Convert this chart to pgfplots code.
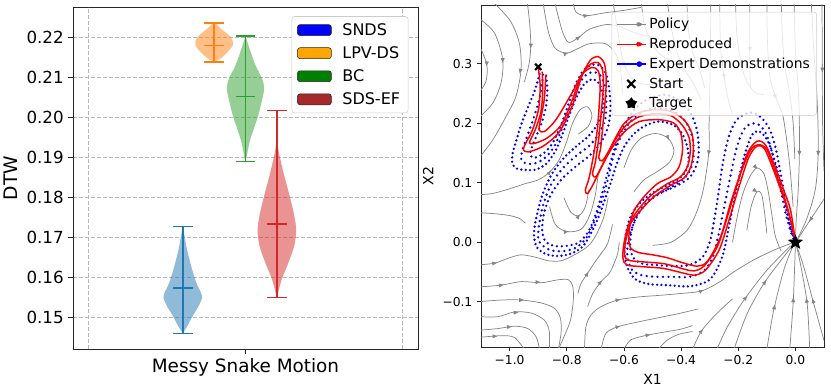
\documentclass[border=0pt]{standalone}
\usepackage{fontspec}
\setmainfont{DejaVu Sans}
\usepackage{pgfplots}
\pgfplotsset{compat=1.18}
\usetikzlibrary{arrows.meta}

\definecolor{c0}{HTML}{1F77B4}
\definecolor{c1}{HTML}{FF7F0E}
\definecolor{c2}{HTML}{2CA02C}
\definecolor{c3}{HTML}{D62728}
\definecolor{pbrown}{HTML}{A52A2A}
\definecolor{porange}{HTML}{FFA500}
\definecolor{pgreen}{HTML}{008000}

% filled five point star for the target
\pgfdeclareplotmark{fstar}{%
  \pgfpathmoveto{\pgfpoint{0pt}{\pgfplotmarksize}}%
  \pgfpathlineto{\pgfpoint{-0.247\pgfplotmarksize}{0.340\pgfplotmarksize}}%
  \pgfpathlineto{\pgfpoint{-0.951\pgfplotmarksize}{0.309\pgfplotmarksize}}%
  \pgfpathlineto{\pgfpoint{-0.399\pgfplotmarksize}{-0.130\pgfplotmarksize}}%
  \pgfpathlineto{\pgfpoint{-0.588\pgfplotmarksize}{-0.809\pgfplotmarksize}}%
  \pgfpathlineto{\pgfpoint{0pt}{-0.420\pgfplotmarksize}}%
  \pgfpathlineto{\pgfpoint{0.588\pgfplotmarksize}{-0.809\pgfplotmarksize}}%
  \pgfpathlineto{\pgfpoint{0.399\pgfplotmarksize}{-0.130\pgfplotmarksize}}%
  \pgfpathlineto{\pgfpoint{0.951\pgfplotmarksize}{0.309\pgfplotmarksize}}%
  \pgfpathlineto{\pgfpoint{0.247\pgfplotmarksize}{0.340\pgfplotmarksize}}%
  \pgfpathclose
  \pgfusepathqfillstroke}

\pgfplotsset{
  vl/.style={forget plot, line width=1.1pt},
  vb/.style={forget plot, draw=none, fill opacity=0.5, smooth},
  sl/.style={forget plot, no markers, smooth, color=black!48, line width=0.55pt},
  demo/.style={forget plot, no markers, smooth, color=blue, line width=1.95pt,
    line cap=round},
  rep/.style={forget plot, no markers, smooth, color=red, line width=1.1pt},
}

\begin{document}
\begin{tikzpicture}
\path[use as bounding box] (0,0) rectangle (623.25pt,290.25pt);

% ---------------- left: violins
\begin{axis}[
  at={(54.75pt,28.5pt)}, anchor=south west, scale only axis,
  width=258.75pt, height=256.5pt,
  xmin=-1.1, xmax=1.1, ymin=0.1421, ymax=0.2275,
  axis line style={black!85, line width=0.6pt},
  tick pos=left, tick align=outside, major tick length=3.5pt,
  tick style={black!85, line width=0.6pt},
  xtick={0}, xticklabels={Messy Snake Motion},
  xticklabel style={font=\fontsize{13.8}{15}\selectfont},
  extra x ticks={-1,1}, extra x tick labels={},
  extra x tick style={grid=major, major tick length=0pt},
  ytick={0.15,0.16,0.17,0.18,0.19,0.20,0.21,0.22},
  yticklabels={0.15,0.16,0.17,0.18,0.19,0.20,0.21,0.22},
  yticklabel style={font=\fontsize{12.5}{14}\selectfont},
  ymajorgrids,
  grid style={black!28, line width=0.6pt, dash pattern=on 3pt off 1.5pt},
  ylabel={DTW}, ylabel style={font=\fontsize{14}{16}\selectfont},
  legend cell align=left,
  legend style={at={(0.972,0.973)}, anchor=north east, draw=black!20,
    rounded corners=2pt, fill=white, font=\fontsize{12}{14}\selectfont,
    row sep=2.9pt, inner xsep=4pt, inner ysep=3pt,
    /tikz/every odd column/.append style={column sep=6pt}},
  legend image code/.code={\draw[#1] (0pt,-4.1pt) rectangle (25.5pt,4.1pt);},
]
% SNDS
\addplot[vb, fill=c0] coordinates {(-0.4,0.1460) (-0.370,0.1479) (-0.336,0.1504) (-0.298,0.1529) (-0.277,0.1550) (-0.288,0.1565) (-0.315,0.1588) (-0.347,0.1629) (-0.374,0.1671) (-0.389,0.1704) (-0.398,0.1727) (-0.402,0.1727) (-0.411,0.1704) (-0.426,0.1671) (-0.453,0.1629) (-0.485,0.1588) (-0.512,0.1565) (-0.523,0.1550) (-0.502,0.1529) (-0.464,0.1504) (-0.430,0.1479) (-0.4,0.1460)} -- cycle;
\addplot[vl, c0] coordinates {(-0.4,0.1460) (-0.4,0.1727)};
\addplot[vl, c0] coordinates {(-0.4625,0.1460) (-0.3375,0.1460)};
\addplot[vl, c0] coordinates {(-0.4625,0.1727) (-0.3375,0.1727)};
\addplot[vl, c0] coordinates {(-0.4625,0.1573) (-0.3375,0.1573)};
% LPV-DS
\addplot[vb, fill=c1] coordinates {(-0.2,0.2138) (-0.168,0.2144) (-0.136,0.2154) (-0.104,0.2167) (-0.081,0.2179) (-0.083,0.2192) (-0.104,0.2204) (-0.157,0.2221) (-0.180,0.2230) (-0.198,0.2235) (-0.202,0.2235) (-0.220,0.2230) (-0.243,0.2221) (-0.296,0.2204) (-0.317,0.2192) (-0.319,0.2179) (-0.296,0.2167) (-0.264,0.2154) (-0.232,0.2144) (-0.2,0.2138)} -- cycle;
\addplot[vl, c1] coordinates {(-0.2,0.2138) (-0.2,0.2235)};
\addplot[vl, c1] coordinates {(-0.2625,0.2138) (-0.1375,0.2138)};
\addplot[vl, c1] coordinates {(-0.2625,0.2235) (-0.1375,0.2235)};
\addplot[vl, c1] coordinates {(-0.2625,0.2179) (-0.1375,0.2179)};
% BC
\addplot[vb, fill=c2] coordinates {(0,0.1889) (0.009,0.1904) (0.026,0.1938) (0.053,0.1971) (0.081,0.2004) (0.102,0.2037) (0.119,0.2071) (0.106,0.2096) (0.064,0.2129) (0.026,0.2171) (0.006,0.2195) (0,0.2202) (-0.006,0.2195) (-0.026,0.2171) (-0.064,0.2129) (-0.106,0.2096) (-0.119,0.2071) (-0.102,0.2037) (-0.081,0.2004) (-0.053,0.1971) (-0.026,0.1938) (-0.009,0.1904) (0,0.1889)} -- cycle;
\addplot[vl, c2] coordinates {(0,0.1889) (0,0.2202)};
\addplot[vl, c2] coordinates {(-0.0625,0.1889) (0.0625,0.1889)};
\addplot[vl, c2] coordinates {(-0.0625,0.2202) (0.0625,0.2202)};
\addplot[vl, c2] coordinates {(-0.0625,0.2052) (0.0625,0.2052)};
% SDS-EF
\addplot[vb, fill=c3] coordinates {(0.2,0.1550) (0.209,0.1563) (0.232,0.1596) (0.275,0.1638) (0.311,0.1679) (0.323,0.1717) (0.311,0.1754) (0.281,0.1804) (0.247,0.1854) (0.217,0.1904) (0.204,0.1938) (0.201,0.1975) (0.199,0.1975) (0.196,0.1938) (0.183,0.1904) (0.153,0.1854) (0.119,0.1804) (0.089,0.1754) (0.077,0.1717) (0.089,0.1679) (0.125,0.1638) (0.168,0.1596) (0.191,0.1563) (0.2,0.1550)} -- cycle;
\addplot[vl, c3] coordinates {(0.2,0.1550) (0.2,0.2017)};
\addplot[vl, c3] coordinates {(0.1375,0.1550) (0.2625,0.1550)};
\addplot[vl, c3] coordinates {(0.1375,0.2017) (0.2625,0.2017)};
\addplot[vl, c3] coordinates {(0.1375,0.1733) (0.2625,0.1733)};

\addlegendimage{fill=blue, draw=black!85}
\addlegendentry{SNDS}
\addlegendimage{fill=porange, draw=black!85}
\addlegendentry{LPV-DS}
\addlegendimage{fill=pgreen, draw=black!85}
\addlegendentry{BC}
\addlegendimage{fill=pbrown, draw=black!85}
\addlegendentry{SDS-EF}
\end{axis}

% ---------------- right: policy streamlines and trajectories
\begin{axis}[
  at={(360.75pt,30pt)}, anchor=south west, scale only axis,
  width=257.25pt, height=256.5pt,
  xmin=-1.1, xmax=0.1, ymin=-0.176, ymax=0.399,
  axis line style={black!85, line width=0.6pt},
  tick pos=left, tick align=outside, major tick length=3pt,
  tick style={black!85, line width=0.6pt},
  xtick={-1,-0.8,-0.6,-0.4,-0.2,0},
  xticklabels={−1.0,−0.8,−0.6,−0.4,−0.2,0.0},
  ytick={-0.1,0,0.1,0.2,0.3},
  yticklabels={−0.1,0.0,0.1,0.2,0.3},
  tick label style={font=\fontsize{9.2}{10}\selectfont},
  xlabel={X1}, ylabel={X2},
  label style={font=\fontsize{10.5}{12}\selectfont},
  legend cell align=left,
  legend style={at={(0.979,0.98)}, anchor=north east, fill=white,
    fill opacity=0.8, draw opacity=1, text opacity=1, draw=black!20,
    rounded corners=2pt, font=\fontsize{10.4}{12}\selectfont,
    row sep=1.5pt, inner xsep=3pt, inner ysep=2.5pt},
]
% streamlines of the learned policy
\addplot[sl] coordinates {(-1.07,0.41) (-1.00,0.374) (-0.966,0.335) (-0.96,0.29) (-0.978,0.245) (-1.013,0.211) (-1.059,0.172) (-1.11,0.14)};
\addplot[sl] coordinates {(-1.11,0.378) (-1.053,0.352) (-1.024,0.307) (-1.03,0.268) (-1.059,0.234) (-1.11,0.208)};
\addplot[sl] coordinates {(-1.11,0.335) (-1.08,0.30) (-1.083,0.27) (-1.11,0.25)};
\addplot[sl] coordinates {(-0.94,0.41) (-0.93,0.37) (-0.926,0.33) (-0.932,0.30) (-0.948,0.27)};
\addplot[sl] coordinates {(-0.845,0.41) (-0.83,0.38) (-0.812,0.35) (-0.792,0.336) (-0.757,0.345) (-0.722,0.358) (-0.664,0.366) (-0.617,0.363) (-0.56,0.352) (-0.50,0.345)};
\addplot[sl] coordinates {(-0.78,0.41) (-0.769,0.388) (-0.734,0.381) (-0.664,0.386) (-0.60,0.39) (-0.54,0.395)};
\addplot[sl] coordinates {(-0.885,0.41) (-0.875,0.38) (-0.862,0.35) (-0.84,0.326) (-0.80,0.318) (-0.76,0.326) (-0.72,0.334) (-0.665,0.334) (-0.63,0.318) (-0.612,0.29) (-0.605,0.25)};
\addplot[sl] coordinates {(-1.11,0.08) (-1.06,0.082) (-1.0,0.09) (-0.95,0.098) (-0.90,0.105) (-0.86,0.118) (-0.825,0.14) (-0.80,0.17) (-0.78,0.2) (-0.755,0.222) (-0.728,0.228) (-0.712,0.214) (-0.725,0.195) (-0.76,0.182)};
\addplot[sl] coordinates {(-1.11,0.05) (-1.05,0.048) (-1.0,0.045) (-0.965,0.04) (-0.945,0.032)};
\addplot[sl] coordinates {(-0.86,0.06) (-0.84,0.03) (-0.80,0.018) (-0.75,0.022) (-0.72,0.045) (-0.70,0.08) (-0.69,0.115)};
\addplot[sl] coordinates {(-0.81,0.075) (-0.785,0.05) (-0.757,0.045) (-0.735,0.06) (-0.722,0.09)};
\addplot[sl] coordinates {(-1.11,-0.038) (-1.052,-0.035) (-1.006,-0.027) (-0.959,-0.021) (-0.901,-0.026) (-0.866,-0.031) (-0.82,-0.031) (-0.773,-0.021) (-0.727,-0.007) (-0.70,0.01) (-0.672,0.04) (-0.655,0.075)};
% left part: flow runs right, then turns down to the lower edge
\addplot[sl] coordinates {(-1.11,-0.075) (-1.029,-0.072) (-0.959,-0.066) (-0.889,-0.068) (-0.831,-0.063) (-0.794,-0.063) (-0.779,-0.074) (-0.777,-0.097) (-0.787,-0.131) (-0.81,-0.159) (-0.829,-0.18)};
\addplot[sl] coordinates {(-1.11,-0.10) (-1.029,-0.097) (-0.959,-0.097) (-0.889,-0.102) (-0.843,-0.111) (-0.822,-0.128) (-0.82,-0.153) (-0.83,-0.18)};
\addplot[sl] coordinates {(-1.11,-0.125) (-1.041,-0.125) (-0.983,-0.117) (-0.924,-0.119) (-0.878,-0.131) (-0.861,-0.15) (-0.861,-0.18)};
\addplot[sl] coordinates {(-1.11,-0.148) (-1.041,-0.145) (-0.983,-0.141) (-0.936,-0.145) (-0.907,-0.159) (-0.895,-0.18)};
\addplot[sl] coordinates {(-1.11,-0.16) (-1.029,-0.157) (-0.983,-0.16) (-0.948,-0.18)};
% right part: flow comes up from the lower edge and runs right
\addplot[sl] coordinates {(-0.738,-0.18) (-0.733,-0.142) (-0.715,-0.122) (-0.68,-0.108) (-0.622,-0.097) (-0.552,-0.092) (-0.471,-0.089) (-0.401,-0.086) (-0.33,-0.082) (-0.27,-0.068) (-0.21,-0.048) (-0.14,-0.028) (-0.07,-0.012) (-0.01,-0.001)};
\addplot[sl] coordinates {(-0.68,-0.18) (-0.663,-0.153) (-0.622,-0.142) (-0.552,-0.134) (-0.471,-0.126) (-0.401,-0.119) (-0.34,-0.112)};
\addplot[sl] coordinates {(-0.60,-0.18) (-0.576,-0.164) (-0.517,-0.156) (-0.448,-0.15) (-0.401,-0.146) (-0.36,-0.14)};
\addplot[sl] coordinates {(-0.761,-0.086) (-0.75,-0.069) (-0.727,-0.052) (-0.704,-0.035) (-0.68,-0.019) (-0.657,-0.002) (-0.64,0.03)};
\addplot[sl] coordinates {(-0.727,-0.108) (-0.709,-0.086) (-0.68,-0.066) (-0.651,-0.052) (-0.634,-0.035) (-0.622,-0.019) (-0.616,0.0)};
\addplot[sl] coordinates {(-0.48,-0.18) (-0.45,-0.165) (-0.41,-0.155) (-0.36,-0.15)};
\addplot[sl] coordinates {(-0.36,-0.18) (-0.33,-0.15) (-0.28,-0.122) (-0.22,-0.095)};
\addplot[sl] coordinates {(-0.275,-0.18) (-0.238,-0.142) (-0.18,-0.097) (-0.10,-0.047) (-0.017,-0.006)};
\addplot[sl] coordinates {(-0.215,-0.18) (-0.169,-0.12) (-0.11,-0.069) (-0.05,-0.03) (-0.006,-0.003)};
\addplot[sl] coordinates {(-0.10,-0.18) (-0.076,-0.114) (-0.041,-0.047) (-0.01,-0.008)};
\addplot[sl] coordinates {(-0.02,-0.18) (-0.008,-0.103) (-0.002,-0.03) (0,0)};
\addplot[sl] coordinates {(0.05,-0.18) (0.041,-0.103) (0.017,-0.035) (0.002,-0.003)};
\addplot[sl] coordinates {(0.10,-0.165) (0.064,-0.103) (0.029,-0.041) (0.003,-0.004)};
\addplot[sl] coordinates {(0.11,0.08) (0.055,0.04) (0.006,0.004)};
\addplot[sl] coordinates {(0.055,0.41) (0.064,0.324) (0.076,0.239) (0.08,0.155) (0.07,0.09) (0.04,0.04) (0.005,0.004)};
\addplot[sl] coordinates {(-0.005,0.41) (0,0.324) (0.012,0.239) (0.014,0.155) (0.01,0.09) (0.003,0.04) (0,0.003)};
\addplot[sl] coordinates {(0.093,0.41) (0.094,0.3) (0.095,0.2) (0.1,0.12)};
\addplot[sl] coordinates {(-0.05,0.41) (-0.045,0.34) (-0.035,0.29) (-0.02,0.25) (-0.008,0.2) (-0.002,0.14)};
\addplot[sl] coordinates {(-0.10,0.41) (-0.098,0.34) (-0.09,0.28) (-0.07,0.245) (-0.045,0.215) (-0.03,0.17) (-0.018,0.12) (-0.008,0.06)};
\addplot[sl] coordinates {(-0.16,0.41) (-0.16,0.33) (-0.158,0.26)};
\addplot[sl] coordinates {(-0.21,0.41) (-0.205,0.35) (-0.19,0.3) (-0.17,0.27) (-0.14,0.252) (-0.11,0.248)};
\addplot[sl] coordinates {(-0.265,0.41) (-0.262,0.33) (-0.25,0.28) (-0.235,0.24) (-0.22,0.215)};
\addplot[sl] coordinates {(-0.296,0.40) (-0.298,0.3) (-0.302,0.2) (-0.302,0.155) (-0.32,0.094) (-0.343,0.054) (-0.378,0.021) (-0.436,0.0) (-0.50,-0.005)};
\addplot[sl] coordinates {(-0.38,0.41) (-0.375,0.36) (-0.36,0.32) (-0.335,0.29) (-0.318,0.26)};
\addplot[sl] coordinates {(-0.22,0.0) (-0.205,0.04) (-0.185,0.08) (-0.16,0.11) (-0.135,0.125) (-0.11,0.115) (-0.095,0.085) (-0.082,0.045) (-0.07,0.01) (-0.05,-0.015)};
\addplot[sl] coordinates {(-0.17,0.02) (-0.155,0.06) (-0.135,0.085) (-0.118,0.08) (-0.108,0.05) (-0.10,0.015)};
\addplot[sl] coordinates {(-0.60,0.125) (-0.575,0.155) (-0.54,0.175) (-0.49,0.183) (-0.445,0.175) (-0.425,0.155) (-0.44,0.135) (-0.48,0.12) (-0.53,0.105) (-0.565,0.085)};
\addplot[sl] coordinates {(-0.64,0.41) (-0.62,0.35) (-0.60,0.30) (-0.56,0.27) (-0.50,0.265)};
\addplot[sl] coordinates {(-0.54,0.41) (-0.53,0.37) (-0.505,0.335) (-0.47,0.315) (-0.43,0.305)};
\addplot[sl] coordinates {(-0.45,0.41) (-0.43,0.35) (-0.40,0.30) (-0.36,0.27) (-0.33,0.24)};

% arrow heads on the streamlines: position and direction of flow
\addplot[forget plot, black!48, line width=0.5pt, -{Latex[length=3.8pt,width=3.2pt]},
  quiver={u=\thisrow{u}, v=\thisrow{v}}] table {
x y u v
-0.962 0.290 -0.0027 -0.0068
-1.024 0.307 -0.0009 -0.0059
-1.080 0.300 -0.0005 -0.0045
-0.926 0.330 -0.0009 -0.0045
-0.757 0.345 0.0053 0.0020
-0.734 0.381 0.0105 0.0008
-0.800 0.318 0.0060 0.0012
-0.860 0.118 0.0053 0.0033
-0.800 0.018 0.0075 0.0006
-0.757 0.045 0.0033 0.0023
-1.052 -0.035 0.0090 0.0008
-1.030 -0.072 0.0105 0.0009
-0.900 -0.067 0.0090 0.0000
-0.959 -0.097 0.0105 0.0000
-0.977 -0.118 0.0090 0.0003
-1.000 -0.142 0.0090 0.0005
-1.052 -0.158 0.0105 0.0003
-0.622 -0.097 0.0105 0.0008
-0.622 -0.142 0.0105 0.0012
-0.517 -0.156 0.0105 0.0010
-0.727 -0.052 0.0035 0.0026
-0.680 -0.066 0.0044 0.0021
-0.330 -0.082 0.0105 0.0020
-0.330 -0.150 0.0075 0.0042
-0.180 -0.097 0.0120 0.0075
-0.110 -0.069 0.0090 0.0059
-0.076 -0.114 0.0053 0.0101
-0.008 -0.103 0.0009 0.0110
0.041 -0.103 -0.0036 0.0102
0.064 -0.103 -0.0053 0.0093
0.055 0.040 -0.0074 -0.0054
0.080 0.155 -0.0015 -0.0098
0.014 0.155 -0.0006 -0.0098
0.094 0.300 0.0002 -0.0150
-0.070 0.245 0.0038 -0.0045
-0.160 0.330 0.0003 -0.0105
-0.250 0.280 0.0023 -0.0060
-0.302 0.155 -0.0027 -0.0092
-0.135 0.125 0.0038 -0.0015
-0.135 0.085 0.0026 -0.0008
-0.445 0.175 0.0030 -0.0030
-0.600 0.300 0.0060 -0.0045
-0.400 0.300 0.0060 -0.0045
};

% expert demonstrations
\addplot[demo, dash pattern=on 0pt off 3.3pt] coordinates {(-0.895,0.283) (-0.912,0.255) (-0.935,0.228) (-0.958,0.20) (-0.976,0.172) (-0.99,0.148) (-0.99,0.132) (-0.975,0.124) (-0.95,0.122) (-0.91,0.122) (-0.872,0.132) (-0.838,0.155) (-0.81,0.188) (-0.785,0.222) (-0.76,0.25) (-0.735,0.268) (-0.708,0.274) (-0.685,0.266) (-0.673,0.245) (-0.676,0.22) (-0.695,0.197) (-0.725,0.178) (-0.765,0.162) (-0.81,0.142) (-0.852,0.115) (-0.885,0.08) (-0.905,0.045) (-0.915,0.015) (-0.905,-0.008) (-0.872,-0.02) (-0.826,-0.023) (-0.78,-0.018) (-0.742,-0.006) (-0.71,0.02) (-0.686,0.046) (-0.663,0.077) (-0.645,0.102) (-0.625,0.132) (-0.60,0.16) (-0.57,0.18) (-0.53,0.195) (-0.48,0.203) (-0.43,0.198) (-0.397,0.183) (-0.378,0.16) (-0.374,0.135) (-0.39,0.115) (-0.43,0.1) (-0.49,0.086) (-0.54,0.068) (-0.575,0.045) (-0.593,0.015) (-0.598,-0.015) (-0.588,-0.042) (-0.56,-0.062) (-0.515,-0.07) (-0.45,-0.072) (-0.37,-0.074) (-0.31,-0.066) (-0.28,-0.05) (-0.252,-0.018) (-0.228,0.038) (-0.204,0.094) (-0.18,0.143) (-0.155,0.178) (-0.133,0.187) (-0.11,0.18) (-0.09,0.163) (-0.07,0.133) (-0.052,0.098) (-0.036,0.063) (-0.02,0.03) (-0.004,0.004)};
\addplot[demo, dash pattern=on 0pt off 4.1pt] coordinates {(-0.883,0.282) (-0.89,0.255) (-0.903,0.229) (-0.92,0.203) (-0.94,0.176) (-0.956,0.154) (-0.959,0.14) (-0.945,0.133) (-0.917,0.132) (-0.881,0.14) (-0.845,0.16) (-0.816,0.192) (-0.791,0.225) (-0.766,0.256) (-0.74,0.278) (-0.711,0.286) (-0.685,0.282) (-0.667,0.264) (-0.662,0.24) (-0.665,0.208) (-0.688,0.182) (-0.722,0.162) (-0.768,0.145) (-0.815,0.124) (-0.855,0.097) (-0.882,0.064) (-0.896,0.032) (-0.9,0.008) (-0.89,-0.003) (-0.858,-0.013) (-0.813,-0.015) (-0.768,-0.009) (-0.732,0.007) (-0.703,0.036) (-0.679,0.068) (-0.657,0.104) (-0.635,0.148) (-0.61,0.178) (-0.58,0.201) (-0.54,0.218) (-0.485,0.226) (-0.425,0.22) (-0.383,0.202) (-0.36,0.175) (-0.356,0.145) (-0.368,0.122) (-0.395,0.105) (-0.445,0.09) (-0.5,0.076) (-0.54,0.055) (-0.567,0.03) (-0.585,0.003) (-0.588,-0.022) (-0.574,-0.045) (-0.54,-0.055) (-0.49,-0.058) (-0.43,-0.058) (-0.37,-0.058) (-0.318,-0.047) (-0.288,-0.023) (-0.268,0.015) (-0.248,0.062) (-0.228,0.11) (-0.205,0.16) (-0.18,0.19) (-0.152,0.2) (-0.125,0.197) (-0.1,0.18) (-0.08,0.148) (-0.062,0.11) (-0.046,0.075) (-0.03,0.04) (-0.012,0.012) (0.0,0.0)};
\addplot[demo, dash pattern=on 0pt off 3.7pt] coordinates {(-0.872,0.28) (-0.868,0.255) (-0.872,0.23) (-0.885,0.205) (-0.905,0.18) (-0.922,0.16) (-0.928,0.148) (-0.915,0.142) (-0.885,0.148) (-0.852,0.165) (-0.822,0.195) (-0.797,0.228) (-0.772,0.262) (-0.745,0.287) (-0.715,0.298) (-0.685,0.297) (-0.662,0.283) (-0.651,0.256) (-0.647,0.225) (-0.655,0.195) (-0.68,0.168) (-0.72,0.146) (-0.77,0.127) (-0.82,0.105) (-0.858,0.078) (-0.88,0.048) (-0.886,0.02) (-0.875,0.002) (-0.845,-0.006) (-0.80,-0.006) (-0.757,0.0) (-0.722,0.02) (-0.695,0.052) (-0.672,0.09) (-0.65,0.13) (-0.627,0.165) (-0.60,0.195) (-0.565,0.222) (-0.52,0.24) (-0.46,0.248) (-0.41,0.24) (-0.37,0.22) (-0.345,0.19) (-0.338,0.155) (-0.346,0.13) (-0.372,0.108) (-0.42,0.094) (-0.475,0.082) (-0.525,0.064) (-0.558,0.042) (-0.575,0.015) (-0.578,-0.01) (-0.565,-0.027) (-0.535,-0.036) (-0.49,-0.038) (-0.43,-0.04) (-0.37,-0.038) (-0.325,-0.025) (-0.30,0.0) (-0.285,0.035) (-0.27,0.08) (-0.255,0.13) (-0.235,0.175) (-0.21,0.203) (-0.18,0.215) (-0.15,0.218) (-0.12,0.21) (-0.09,0.19) (-0.07,0.16) (-0.055,0.125) (-0.042,0.09) (-0.03,0.055) (-0.015,0.02) (0.0,0.0)};

% reproduced trajectories
\addplot[rep] coordinates {(-0.900,0.295) (-0.893,0.262) (-0.899,0.223) (-0.920,0.189) (-0.943,0.167) (-0.952,0.156) (-0.935,0.152) (-0.885,0.161) (-0.827,0.185) (-0.782,0.228) (-0.748,0.278) (-0.718,0.306) (-0.69,0.312) (-0.668,0.300) (-0.662,0.270) (-0.667,0.230) (-0.674,0.195) (-0.681,0.16) (-0.688,0.142) (-0.676,0.137) (-0.655,0.152) (-0.628,0.177) (-0.599,0.200) (-0.552,0.217) (-0.494,0.223) (-0.436,0.220) (-0.390,0.206) (-0.362,0.183) (-0.357,0.155) (-0.366,0.127) (-0.390,0.108) (-0.436,0.096) (-0.494,0.077) (-0.541,0.054) (-0.576,0.032) (-0.593,0.004) (-0.598,-0.020) (-0.585,-0.030) (-0.529,-0.033) (-0.459,-0.036) (-0.390,-0.045) (-0.355,-0.048) (-0.320,-0.040) (-0.273,-0.007) (-0.238,0.043) (-0.203,0.099) (-0.168,0.150) (-0.134,0.170) (-0.105,0.164) (-0.076,0.133) (-0.041,0.088) (-0.017,0.054) (0,0)};
\addplot[rep] coordinates {(-0.873,0.282) (-0.879,0.239) (-0.893,0.203) (-0.897,0.189) (-0.879,0.186) (-0.838,0.206) (-0.782,0.251) (-0.747,0.282) (-0.712,0.294) (-0.690,0.288) (-0.683,0.262) (-0.692,0.195) (-0.705,0.150) (-0.722,0.108) (-0.735,0.088) (-0.727,0.082) (-0.705,0.100) (-0.675,0.130) (-0.640,0.160) (-0.600,0.185) (-0.560,0.200) (-0.529,0.205) (-0.471,0.206) (-0.424,0.200) (-0.401,0.183) (-0.395,0.155) (-0.407,0.127) (-0.436,0.110) (-0.482,0.099) (-0.529,0.077) (-0.564,0.054) (-0.578,0.032) (-0.583,0.004) (-0.576,-0.010) (-0.550,-0.017) (-0.50,-0.021) (-0.448,-0.026) (-0.390,-0.035) (-0.343,-0.040) (-0.308,-0.032) (-0.262,0.009) (-0.227,0.066) (-0.192,0.116) (-0.157,0.155) (-0.128,0.164) (-0.099,0.155) (-0.064,0.110) (-0.029,0.060) (-0.006,0.015) (0,0)};
\addplot[rep] coordinates {(-0.886,0.287) (-0.884,0.255) (-0.89,0.22) (-0.908,0.192) (-0.925,0.174) (-0.93,0.167) (-0.915,0.166) (-0.87,0.175) (-0.82,0.197) (-0.78,0.24) (-0.75,0.28) (-0.715,0.300) (-0.69,0.302) (-0.675,0.29) (-0.672,0.262) (-0.68,0.215) (-0.688,0.175) (-0.70,0.135) (-0.71,0.115) (-0.698,0.11) (-0.672,0.133) (-0.637,0.167) (-0.60,0.193) (-0.552,0.21) (-0.494,0.216) (-0.436,0.213) (-0.396,0.197) (-0.372,0.176) (-0.368,0.152) (-0.378,0.127) (-0.405,0.109) (-0.45,0.098) (-0.505,0.079) (-0.55,0.055) (-0.582,0.031) (-0.598,0.003) (-0.604,-0.025) (-0.59,-0.038) (-0.532,-0.041) (-0.46,-0.044) (-0.39,-0.052) (-0.352,-0.055) (-0.315,-0.047) (-0.267,-0.013) (-0.232,0.038) (-0.197,0.094) (-0.163,0.143) (-0.134,0.162) (-0.108,0.157) (-0.082,0.128) (-0.048,0.084) (-0.022,0.046) (0,0)};

% start and target
\addplot[forget plot, only marks, mark=x, mark size=3.3pt, line width=1.6pt, black] coordinates {(-0.9,0.295)};
\addplot[forget plot, only marks, mark=fstar, mark size=5.5pt, black, fill=black, line width=0.4pt] coordinates {(0,0)};

\addlegendimage{legend image code/.code={
  \draw[black!48, line width=0.7pt, draw opacity=1] (0pt,0pt) -- (22pt,0pt);
  \fill[black!48, fill opacity=1] (20pt,0pt) -- (15pt,2pt) -- (15pt,-2pt) -- cycle;}}
\addlegendentry{Policy}
\addlegendimage{legend image code/.code={
  \draw[red, line width=1.1pt, draw opacity=1] (0pt,0pt) -- (22pt,0pt);
  \fill[red, fill opacity=1] (20pt,0pt) -- (15pt,2.2pt) -- (15pt,-2.2pt) -- cycle;}}
\addlegendentry{Reproduced}
\addlegendimage{legend image code/.code={
  \draw[blue, line width=1.1pt, draw opacity=1] (0pt,0pt) -- (22pt,0pt);
  \fill[blue, fill opacity=1] (17pt,0pt) circle (1.9pt);}}
\addlegendentry{Expert Demonstrations}
\addlegendimage{legend image code/.code={
  \draw[black, line width=1.6pt, draw opacity=1] (8pt,-3pt) -- (14pt,3pt) (8pt,3pt) -- (14pt,-3pt);}}
\addlegendentry{Start}
\addlegendimage{legend image code/.code={
  \fill[black, fill opacity=1] (11pt,5pt) -- (9.8pt,1.7pt) -- (6.2pt,1.5pt) -- (9pt,-0.7pt)
    -- (8.1pt,-4pt) -- (11pt,-2.1pt) -- (13.9pt,-4pt) -- (13pt,-0.7pt) -- (15.8pt,1.5pt)
    -- (12.2pt,1.7pt) -- cycle;}}
\addlegendentry{Target}
\end{axis}
\end{tikzpicture}
\end{document}
